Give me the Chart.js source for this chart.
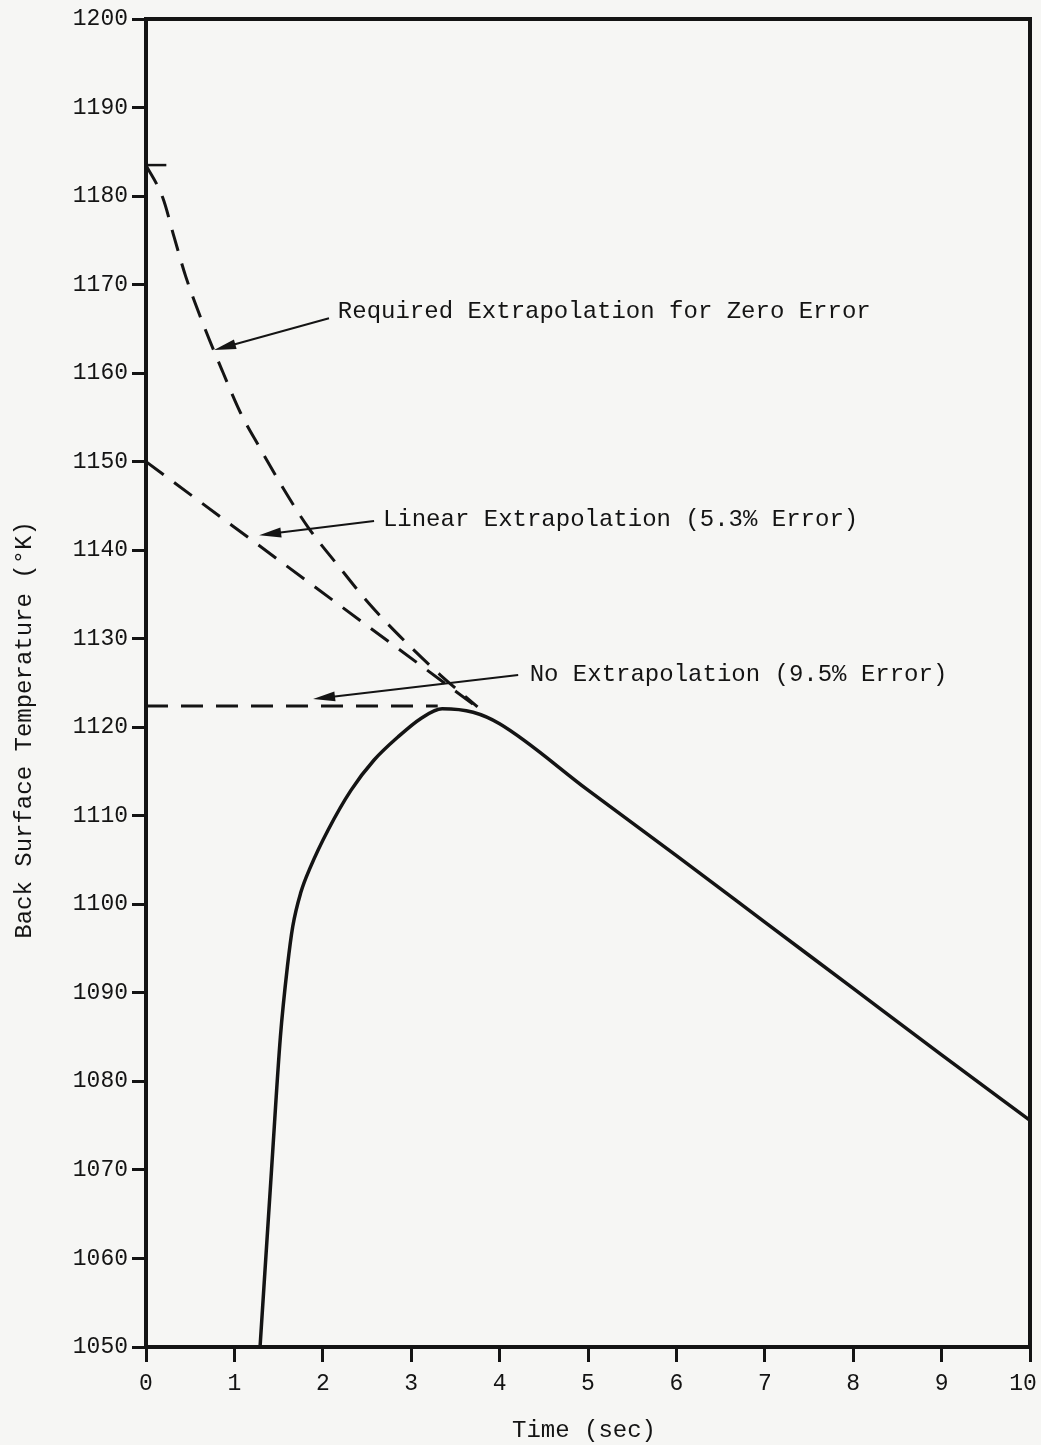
<!DOCTYPE html>
<html>
<head>
<meta charset="utf-8">
<script src="https://cdn.jsdelivr.net/npm/chart.js@4.4.1/dist/chart.umd.min.js"></script>
<style>
  html, body { margin: 0; padding: 0; background: #f6f6f4; }
</style>
</head>
<body>
<canvas id="c" width="1041" height="1445"></canvas>
<script>
/* данные */
const xTicks = [0, 1, 2, 3, 4, 5, 6, 7, 8, 9, 10];
const yTicks = [1050, 1060, 1070, 1080, 1090, 1100, 1110, 1120, 1130, 1140, 1150, 1160, 1170, 1180, 1190, 1200];

// сплошная кривая — измеренная температура
const solidT    = [1.29, 1.42, 1.52, 1.60, 1.66, 1.75, 1.86, 2.06, 2.32, 2.58, 2.85, 3.11, 3.35, 3.70, 4.00, 5.00, 6.00, 7.00, 8.00, 9.00, 10.00];
const solidTemp = [1050, 1070, 1085, 1093, 1097.5, 1101.3, 1104.2, 1108.4, 1112.9, 1116.3, 1118.9, 1121.0, 1122.1, 1121.7, 1120.4, 1112.9, 1105.5, 1098.0, 1090.5, 1083.0, 1075.6];

// требуемая экстраполяция (нулевая ошибка)
const reqT    = [0, 0.19, 0.32, 0.45, 0.66, 0.87, 1.07, 1.28, 1.60, 1.84, 2.17, 2.52, 2.94, 3.33, 3.75];
const reqTemp = [1183.5, 1179.8, 1175.3, 1170.9, 1165.2, 1160.1, 1155.5, 1151.7, 1146.2, 1142.5, 1138.3, 1134.0, 1129.6, 1125.9, 1122.3];

// линейная экстраполяция (5.3%)
const linT    = [0, 3.7];
const linTemp = [1150, 1122.6];

// без экстраполяции (9.5%)
const noT    = [0, 3.3];
const noTemp = [1122.4, 1122.4];

// короткая засечка у начала требуемой кривой
const markT    = [0, 0.23];
const markTemp = [1183.5, 1183.5];

/* подписи со стрелками (в единицах осей) */
const notes = [
  { text: 'Required Extrapolation for Zero Error', tx: 2.17, ty: 1166.9, from: [2.07, 1166.2], to: [0.77, 1162.6] },
  { text: 'Linear Extrapolation (5.3% Error)',     tx: 2.68, ty: 1143.4, from: [2.58, 1143.3], to: [1.28, 1141.7] },
  { text: 'No Extrapolation (9.5% Error)',         tx: 4.34, ty: 1126.0, from: [4.21, 1125.9], to: [1.89, 1123.2] }
];

const INK  = '#141414';
const FONT = '"Liberation Mono", "Courier New", monospace';
const pts  = (xs, ys) => xs.map((x, i) => ({ x, y: ys[i] }));

/* ── стрелка с узким залитым наконечником ─────────────────── */
function arrow(ctx, x1, y1, x2, y2) {
  const ang = Math.atan2(y2 - y1, x2 - x1);
  const len = 22, half = 5;
  ctx.beginPath();
  ctx.moveTo(x1, y1);
  ctx.lineTo(x2 - Math.cos(ang) * len * 0.6, y2 - Math.sin(ang) * len * 0.6);
  ctx.lineWidth = 2;
  ctx.stroke();
  ctx.beginPath();
  ctx.moveTo(x2, y2);
  ctx.lineTo(x2 - Math.cos(ang) * len - Math.sin(ang) * half, y2 - Math.sin(ang) * len + Math.cos(ang) * half);
  ctx.lineTo(x2 - Math.cos(ang) * len + Math.sin(ang) * half, y2 - Math.sin(ang) * len - Math.cos(ang) * half);
  ctx.closePath();
  ctx.fill();
}

const paper = {
  id: 'paper',
  beforeDraw(c) {
    const ctx = c.ctx;
    ctx.save();
    ctx.fillStyle = '#f6f6f4';
    ctx.fillRect(0, 0, c.width, c.height);
    ctx.restore();
  },
  afterDraw(c) {
    const { ctx, chartArea: a, scales: { x, y } } = c;
    ctx.save();
    ctx.strokeStyle = INK;
    ctx.fillStyle = INK;

    // верх и правая сторона рамки
    ctx.lineWidth = 4;
    ctx.beginPath();
    ctx.moveTo(a.left - 2, a.top);
    ctx.lineTo(a.right, a.top);
    ctx.lineTo(a.right, a.bottom + 2);
    ctx.stroke();

    // подписи и стрелки
    ctx.font = '24px ' + FONT;
    ctx.textAlign = 'left';
    ctx.textBaseline = 'middle';
    notes.forEach(n => {
      ctx.fillText(n.text, x.getPixelForValue(n.tx), y.getPixelForValue(n.ty));
      arrow(ctx,
        x.getPixelForValue(n.from[0]), y.getPixelForValue(n.from[1]),
        x.getPixelForValue(n.to[0]),   y.getPixelForValue(n.to[1]));
    });

    // названия осей
    ctx.textAlign = 'center';
    ctx.fillText('Time (sec)', (a.left + a.right) / 2 - 4, a.bottom + 84);
    ctx.save();
    ctx.translate(25, y.getPixelForValue(1119.7));
    ctx.rotate(-Math.PI / 2);
    ctx.fillText('Back Surface Temperature (°K)', 0, 0);
    ctx.restore();

    ctx.restore();
  }
};

const dashed = (data) => ({
  data, borderColor: INK, borderWidth: 3, borderDash: [22, 13],
  pointRadius: 0, fill: false
});

new Chart(document.getElementById('c'), {
  type: 'line',
  data: {
    datasets: [
      { data: pts(solidT, solidTemp), borderColor: INK, borderWidth: 3.5, pointRadius: 0,
        cubicInterpolationMode: 'monotone', fill: false },
      Object.assign(dashed(pts(reqT, reqTemp)), { cubicInterpolationMode: 'monotone' }),
      dashed(pts(linT, linTemp)),
      dashed(pts(noT, noTemp)),
      { data: pts(markT, markTemp), borderColor: INK, borderWidth: 2.5, pointRadius: 0 }
    ]
  },
  options: {
    responsive: false,
    animation: false,
    layout: { padding: { top: 19, right: 11, left: 0, bottom: 0 } },
    plugins: { legend: { display: false }, tooltip: { enabled: false } },
    scales: {
      x: {
        type: 'linear', min: 0, max: 10,
        afterBuildTicks: s => { s.ticks = xTicks.map(v => ({ value: v })); },
        afterFit: s => { s.height = 98; s.paddingLeft = 0; s.paddingRight = 0; },
        border: { display: true, color: INK, width: 4 },
        grid: { display: true, drawOnChartArea: false, drawTicks: true, tickLength: 15, tickWidth: 3, tickColor: INK },
        // у правого края подпись «10» сдвинута влево, как на оригинале
        ticks: { color: INK, font: { family: FONT, size: 23 }, padding: 8, maxRotation: 0,
                 callback: v => v === 10 ? '10 ' : String(v) }
      },
      y: {
        type: 'linear', min: 1050, max: 1200,
        afterBuildTicks: s => { s.ticks = yTicks.map(v => ({ value: v })); },
        afterFit: s => { s.width = 146; },
        border: { display: true, color: INK, width: 4 },
        grid: { display: true, drawOnChartArea: false, drawTicks: true, tickLength: 14, tickWidth: 3, tickColor: INK },
        ticks: { color: INK, font: { family: FONT, size: 23 }, padding: 4,
                 callback: v => String(v) }
      }
    }
  },
  plugins: [paper]
});
</script>
</body>
</html>
